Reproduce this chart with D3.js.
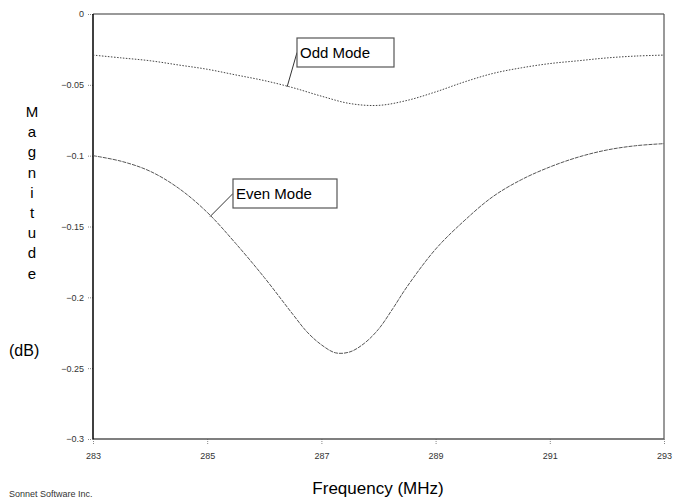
<!DOCTYPE html>
<html>
<head>
<meta charset="utf-8">
<script src="https://cdn.jsdelivr.net/npm/d3@7"></script>
<style>
  body { margin: 0; background: #fff; }
  text { font-family: "Liberation Sans", Arial, sans-serif; }
</style>
</head>
<body>
<div id="chart"></div>
<script>
// data
const freq = [283, 283.5, 284, 284.5, 285, 285.5, 286, 286.5, 286.75, 287, 287.25, 287.5, 287.75, 288, 288.25, 288.5, 289, 289.5, 290, 290.5, 291, 291.5, 292, 292.5, 293];
const evenMode = [-0.100, -0.104, -0.111, -0.123, -0.140, -0.162, -0.186, -0.212, -0.2245, -0.2335, -0.2392, -0.2385, -0.2325, -0.2225, -0.208, -0.1925, -0.166, -0.146, -0.129, -0.117, -0.108, -0.101, -0.096, -0.093, -0.0915];
const oddFreq = [283, 283.5, 284, 284.5, 285, 285.5, 286, 286.5, 287, 287.5, 288, 288.5, 289, 289.5, 290, 290.5, 291, 291.5, 292, 292.5, 293];
const oddMode = [-0.029, -0.031, -0.033, -0.036, -0.039, -0.043, -0.047, -0.052, -0.058, -0.0632, -0.0645, -0.061, -0.055, -0.048, -0.042, -0.038, -0.035, -0.033, -0.031, -0.0297, -0.029];
const xTicks = [283, 285, 287, 289, 291, 293];
const yTicks = [0, -0.05, -0.1, -0.15, -0.2, -0.25, -0.3];
const yLetters = ["M", "a", "g", "n", "i", "t", "u", "d", "e"];

const W = 675, H = 503;
const margin = {top: 14, right: 11, bottom: 64, left: 93};
const width = W - margin.left - margin.right;
const height = H - margin.top - margin.bottom;

const xScale = d3.scaleLinear().domain([283, 293]).range([0, width]);
const yScale = d3.scaleLinear().domain([-0.3, 0]).range([height, 0]);

const svg = d3.select("#chart").append("svg")
    .attr("width", W)
    .attr("height", H);

const g = svg.append("g")
    .attr("transform", `translate(${margin.left},${margin.top})`);

// frame: top and right in grey
g.append("line").attr("x1", 0).attr("x2", width).attr("y1", 0).attr("y2", 0)
    .attr("stroke", "#777").attr("stroke-width", 1.5);
g.append("line").attr("x1", width).attr("x2", width).attr("y1", 0).attr("y2", height)
    .attr("stroke", "#555").attr("stroke-width", 1.2);

// y axis
const yAxis = d3.axisLeft(yScale).tickValues(yTicks).tickSize(6).tickPadding(3)
    .tickFormat(d => d === 0 ? "0" : d3.format("")(+d.toFixed(2)));
const gy = g.append("g").call(yAxis);
gy.select(".domain").remove();
gy.selectAll(".tick line").attr("stroke", "#888").attr("stroke-dasharray", "1,1");
gy.selectAll(".tick text").attr("fill", "#333").style("font-size", "9px");

// x axis
const xAxis = d3.axisBottom(xScale).tickValues(xTicks).tickSize(6).tickPadding(8);
const gx = g.append("g").attr("transform", `translate(0,${height})`).call(xAxis);
gx.select(".domain").remove();
gx.selectAll(".tick line").attr("stroke", "#888").attr("stroke-dasharray", "1,1");
gx.selectAll(".tick text").attr("fill", "#333").style("font-size", "9px");

g.append("line").attr("x1", 0).attr("x2", width).attr("y1", height).attr("y2", height)
    .attr("stroke", "#555").attr("stroke-width", 1.5);
g.append("line").attr("x1", 0).attr("x2", 0).attr("y1", 0).attr("y2", height)
    .attr("stroke", "#000").attr("stroke-width", 1.5);

// curves
const line = d3.line()
    .x(d => xScale(d[0]))
    .y(d => yScale(d[1]))
    .curve(d3.curveCatmullRom);

g.append("path")
    .datum(oddFreq.map((f, i) => [f, oddMode[i]]))
    .attr("fill", "none")
    .attr("stroke", "#444")
    .attr("stroke-width", 1)
    .attr("stroke-dasharray", "1.5,1.5")
    .attr("d", line);

g.append("path")
    .datum(freq.map((f, i) => [f, evenMode[i]]))
    .attr("fill", "none")
    .attr("stroke", "#555")
    .attr("stroke-width", 1)
    .attr("stroke-dasharray", "4,1")
    .attr("d", line);

// labels with pointers
function callout(fx, fy, bx, by, bw, bh, label) {
    g.append("line")
        .attr("x1", xScale(fx)).attr("y1", yScale(fy))
        .attr("x2", bx).attr("y2", by + bh / 2)
        .attr("stroke", "#333").attr("stroke-width", 1);
    g.append("rect")
        .attr("x", bx).attr("y", by).attr("width", bw).attr("height", bh)
        .attr("fill", "#fff").attr("stroke", "#555").attr("stroke-width", 1.2);
    g.append("text")
        .attr("x", bx + 3).attr("y", by + bh / 2 + 5)
        .style("font-size", "15px")
        .attr("fill", "#000")
        .text(label);
}
callout(286.4, -0.0514, 204, 24, 97, 29, "Odd Mode");
callout(285.05, -0.143, 140, 165, 104, 29, "Even Mode");

// y axis title, stacked letters
svg.selectAll(".yletter")
    .data(yLetters)
    .enter().append("text")
    .attr("class", "yletter")
    .attr("x", 32)
    .attr("y", (d, i) => 117 + i * 20.2)
    .attr("text-anchor", "middle")
    .style("font-size", "15px")
    .text(d => d);

svg.append("text")
    .attr("x", 9).attr("y", 356)
    .style("font-size", "16px")
    .text("(dB)");

// x axis title
svg.append("text")
    .attr("x", 378).attr("y", 494)
    .attr("text-anchor", "middle")
    .style("font-size", "17px")
    .text("Frequency (MHz)");

svg.append("text")
    .attr("x", 9).attr("y", 497)
    .style("font-size", "9px")
    .attr("fill", "#333")
    .text("Sonnet Software Inc.");
</script>
</body>
</html>
